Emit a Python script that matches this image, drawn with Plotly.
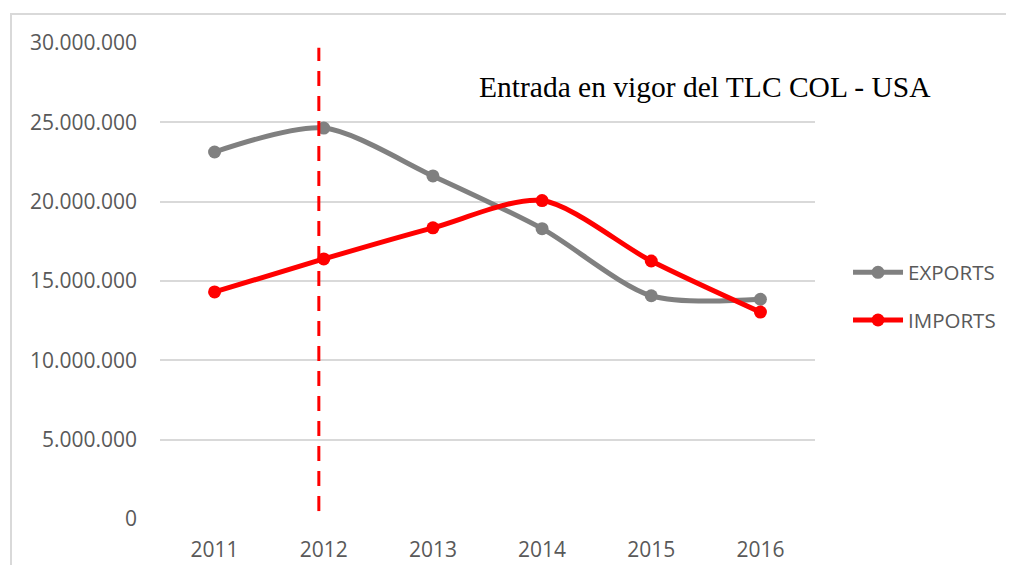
import plotly.graph_objects as go

years = ["2011", "2012", "2013", "2014", "2015", "2016"]
exports = [23130000, 24640000, 21620000, 18300000, 14070000, 13850000]
imports = [14310000, 16390000, 18350000, 20070000, 16260000, 13040000]
y_ticks = [0, 5000000, 10000000, 15000000, 20000000, 25000000, 30000000]
annotation_text = "Entrada en vigor del TLC COL - USA"
treaty_year_index = 0.955

fig = go.Figure()
fig.add_trace(go.Scatter(
    x=years, y=exports, name="EXPORTS", mode="lines+markers",
    line=dict(color="#808080", width=5, shape="spline", smoothing=0.8),
    marker=dict(color="#808080", size=13), legendgroup="a"))
fig.add_trace(go.Scatter(
    x=years, y=imports, name="IMPORTS", mode="lines+markers",
    line=dict(color="#FF0000", width=5, shape="spline", smoothing=0.8),
    marker=dict(color="#FF0000", size=13), legendgroup="b"))

fig.add_shape(type="line", xref="x", yref="y",
              x0=treaty_year_index, x1=treaty_year_index, y0=500000, y1=29700000,
              line=dict(color="#FF0000", width=3, dash="15px,10px"))

# outer chart border (partially visible)
fig.add_shape(type="rect", xref="paper", yref="paper",
              x0=-0.2275, x1=1.35, y0=-0.3, y1=1.0609,
              line=dict(color="#d9d9d9", width=2), fillcolor="rgba(0,0,0,0)", layer="below")

fig.add_annotation(xref="paper", yref="paper", x=0.832, y=0.908,
                   xanchor="center", yanchor="middle", showarrow=False,
                   text=annotation_text,
                   font=dict(family="Liberation Serif", size=29.5, color="#000000"))

fig.update_layout(
    width=998, height=557,
    margin=dict(l=152, r=191, t=35, b=46, autoexpand=False),
    paper_bgcolor="white", plot_bgcolor="white",
    separators=",.",
    font=dict(family="Open Sans", size=21, color="#595959"),
    showlegend=True,
    legend=dict(xref="container", yref="container", x=0.8417, y=0.482,
                xanchor="left", yanchor="middle",
                traceorder="grouped", tracegroupgap=18,
                font=dict(family="Open Sans", size=20.5, color="#595959"),
                itemwidth=50, bgcolor="rgba(0,0,0,0)"),
    xaxis=dict(type="category", range=[-0.5, 5.5], showgrid=False, automargin=False,
               showline=False, ticks="", zeroline=False),
    yaxis=dict(range=[0, 30000000], tickvals=y_ticks, tickformat=",d", automargin=False,
               showgrid=True, gridcolor="#d9d9d9", gridwidth=1.5,
               zeroline=False, ticks="", ticklen=0, showline=False),
)
fig.update_yaxes(ticklabelstandoff=22)
fig.update_xaxes(ticklabelstandoff=16)

fig.write_html("out.html")
